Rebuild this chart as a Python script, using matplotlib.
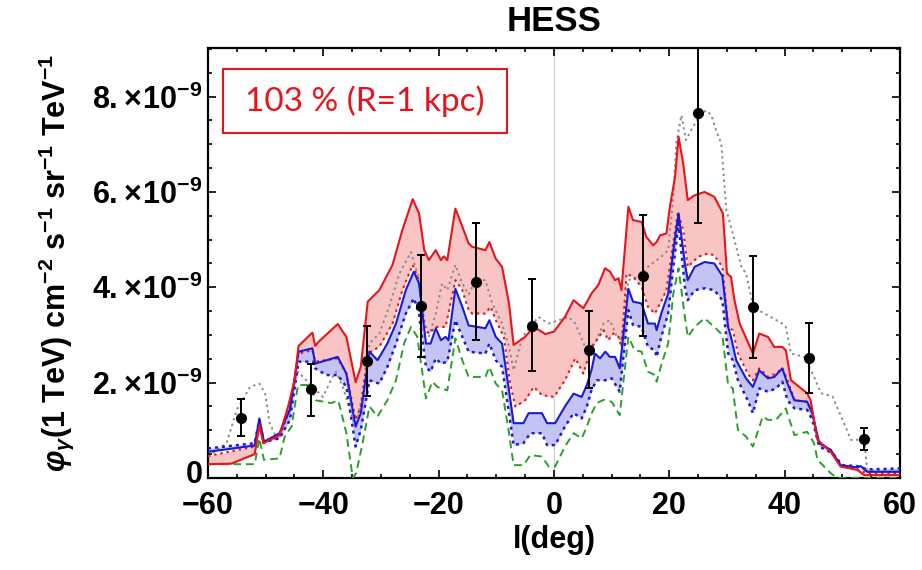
import numpy as np
import matplotlib
matplotlib.use("Agg")
import matplotlib.pyplot as plt
import matplotlib.transforms as mtransforms
from matplotlib.ticker import MultipleLocator, FuncFormatter
from matplotlib.patches import Rectangle

plt.rcParams['font.family'] = ['Liberation Sans', 'DejaVu Sans']
plt.rcParams['mathtext.fontset'] = 'custom'
plt.rcParams['mathtext.rm'] = 'Liberation Sans:bold'
plt.rcParams['mathtext.bf'] = 'Liberation Sans:bold'
plt.rcParams['mathtext.it'] = 'Liberation Sans:bold:italic'
plt.rcParams['mathtext.sf'] = 'Liberation Sans:bold'

# ---- data (flux in units of 1e-9 cm^-2 s^-1 sr^-1 TeV^-1) ----
red_solid_l = [-60, -56, -51.9, -51.1, -50.4, -47.6, -46.1, -45.0, -44.3, -41.9, -41.4, -40.8, -37.5, -36.0, -34.4,
               -33.5, -32.3, -30.3, -28.0, -26.3, -24.5, -23.4, -22.5, -21.7, -20.5, -19.6, -19.1, -18.5, -17.1, -16.2,
               -14.8, -14.2, -11.9, -11.2, -10.1, -9.0, -7.8, -7.0, -5.0, -3.5, -1.5, 0.0, 1.9, 3.4, 5.1, 6.5, 7.7,
               8.85, 9.7, 10.6, 11.2, 11.7, 12.9, 13.7, 15.2, 16.0, 17.2, 17.8, 18.4, 19.5, 20.1, 21.0, 21.6, 22.4,
               23.2, 24.4, 26.1, 27.8, 29.3, 30.0, 30.7, 31.3, 32.2, 34.5, 35.6, 37.1, 38.2, 39.6, 40.2, 41.1, 43.9,
               44.5, 45.7, 48.0, 49.7, 52.6, 53.8, 60]
red_solid_v = [0.29, 0.30, 0.50, 1.11, 0.73, 0.90, 1.50, 2.05, 2.77, 3.05, 2.77, 2.86, 3.23, 2.96, 2.01,
               2.33, 3.70, 3.94, 4.47, 5.20, 5.85, 5.55, 4.78, 4.57, 4.78, 4.57, 4.65, 4.57, 5.65, 5.37,
               4.92, 4.85, 4.78, 4.95, 4.60, 4.43, 3.66, 2.79, 2.96, 3.17, 3.02, 3.07, 3.38, 3.73, 3.56, 3.87, 4.05,
               4.40, 4.33, 4.15, 4.19, 3.94, 5.69, 5.41, 5.37, 5.06, 4.88, 4.95, 5.09, 5.13, 5.69, 6.32, 7.16, 6.60,
               5.83, 5.93, 6.00, 5.90, 5.55, 4.29, 4.22, 3.73, 3.24, 2.61, 3.03, 2.96, 2.75, 2.75, 2.68, 2.05, 1.78,
               1.63, 0.80, 0.55, 0.24, 0.17, 0.06, 0.06]

red_dot_l = [-60, -51.9, -51.1, -50.4, -47.6, -45.8, -44.3, -41.9, -41.4, -37.5, -36.0, -34.4, -33.5, -32.3, -30.3,
             -28.0, -26.3, -24.5, -23.4, -22.5, -21.7, -20.5, -18.8, -17.1, -15.9, -14.8, -14.2, -11.9, -11.0, -10.1,
             -8.7, -7.6, -6.7, -5.0, -3.5, -2.1, 0.0, 1.9, 3.7, 5.1, 6.5, 7.4, 8.6, 9.4, 10.3, 11.2, 11.7, 12.6,
             13.7, 15.2, 16.3, 17.5, 18.4, 19.5, 20.4, 21.5, 22.4, 23.2, 25.0, 26.7, 27.8, 29.2, 30.2, 31.0, 31.9,
             33.6, 34.5, 35.6, 37.1, 38.5, 39.6, 40.5, 41.7, 43.9, 44.8, 45.7, 48.0, 49.7, 52.6, 54.3, 60]
red_dot_v = [0.46, 0.66, 1.18, 0.73, 0.87, 1.45, 2.61, 2.68, 2.44, 2.51, 2.19, 1.22, 1.50, 2.61, 2.75,
             3.24, 3.94, 4.47, 4.15, 3.17, 3.03, 3.17, 3.17, 4.15, 3.94, 3.52, 3.45, 3.45, 3.59, 3.31,
             2.96, 1.98, 1.50, 1.63, 1.91, 1.74, 1.70, 2.05, 2.51, 2.19, 2.75, 2.89, 3.10, 2.89, 3.03, 2.96, 2.75,
             4.29, 4.22, 4.01, 3.59, 3.45, 3.66, 3.94, 4.71, 5.58, 5.20, 4.43, 4.64, 4.71, 4.67, 4.43, 3.17, 3.10,
             2.61, 2.19, 2.05, 2.30, 2.12, 2.19, 2.30, 2.05, 1.63, 1.60, 1.36, 0.80, 0.55, 0.27, 0.18, 0.10, 0.10]

blue_solid_l = [-60, -51.9, -51.1, -50.3, -47.6, -45.8, -44.3, -41.9, -41.4, -37.5, -36.0, -34.4, -33.5, -32.0,
                -30.6, -28.9, -27.4, -25.7, -24.3, -23.4, -22.2, -21.4, -20.5, -19.6, -18.8, -18.3, -17.1, -15.9,
                -14.8, -11.9, -11.2, -10.1, -9.0, -7.8, -7.0, -5.3, -4.4, -2.1, -1.2, 0.2, 1.9, 3.4, 4.8, 5.7, 6.5,
                7.1, 8.0, 8.9, 9.7, 10.6, 11.4, 12.9, 13.7, 15.2, 16.3, 17.5, 17.8, 18.6, 19.8, 20.7, 21.6, 22.7,
                23.2, 24.4, 26.1, 27.8, 29.2, 30.2, 30.7, 31.6, 33.3, 34.5, 35.6, 37.1, 38.2, 39.6, 40.5, 41.7,
                43.9, 44.8, 46.0, 48.0, 49.7, 52.6, 53.2, 54.3, 60]
blue_solid_v = [0.55, 0.68, 1.25, 0.76, 0.94, 1.43, 2.65, 2.72, 2.40, 2.54, 2.19, 1.08, 1.36, 2.65,
                2.47, 2.82, 3.24, 3.94, 4.33, 4.08, 2.82, 2.82, 3.14, 2.89, 2.96, 2.89, 3.97, 3.59,
                3.20, 3.14, 3.31, 2.96, 2.82, 1.84, 1.15, 1.15, 1.36, 1.36, 1.15, 1.15, 1.50, 1.77, 1.70, 1.95, 2.26,
                2.61, 2.51, 2.65, 2.54, 2.54, 2.30, 3.97, 3.70, 3.66, 3.24, 3.24, 3.10, 3.45, 3.87, 4.78, 5.55, 4.50,
                4.15, 4.43, 4.53, 4.50, 4.24, 3.17, 2.96, 2.47, 2.09, 1.91, 2.26, 2.09, 2.12, 2.30, 1.98, 1.63,
                1.60, 1.36, 0.73, 0.59, 0.27, 0.22, 0.25, 0.13, 0.13]

blue_dot_l = [-60, -51.9, -51.1, -50.3, -47.6, -45.8, -44.3, -41.8, -41.4, -39.5, -37.5, -36.0, -34.4, -33.5, -32.0,
              -30.3, -28.9, -27.4, -25.7, -24.3, -23.4, -22.2, -21.4, -20.5, -19.6, -18.5, -17.1, -15.9, -14.8,
              -11.9, -11.2, -10.1, -9.0, -7.8, -7.0, -5.3, -4.1, -2.1, -1.2, 0.2, 1.9, 3.4, 4.8, 5.7, 6.5, 7.4,
              8.9, 10.0, 11.4, 12.9, 13.7, 15.2, 16.3, 17.5, 17.8, 18.6, 19.8, 20.7, 21.6, 22.7, 23.2, 24.4, 26.1,
              27.8, 29.2, 30.2, 31.0, 31.9, 33.6, 34.5, 35.6, 37.1, 38.5, 39.6, 40.5, 41.7, 43.9, 44.8, 46.0, 48.3,
              50.0, 52.6, 54.3, 60]
blue_dot_v = [0.62, 0.73, 1.22, 0.76, 0.83, 1.22, 2.44, 2.44, 2.30, 2.16, 2.16, 1.91, 0.66, 1.01, 2.05,
              1.98, 2.33, 2.82, 3.45, 3.77, 3.45, 2.33, 2.23, 2.51, 2.40, 2.44, 3.31, 2.96, 2.65,
              2.61, 2.82, 2.47, 2.33, 1.36, 0.69, 0.73, 0.94, 0.94, 0.69, 0.69, 1.08, 1.36, 1.25, 1.50, 1.84, 2.05,
              2.05, 2.09, 1.81, 3.52, 3.21, 3.17, 2.75, 2.68, 2.54, 2.96, 3.45, 4.43, 5.34, 4.01, 3.73, 3.94, 3.98,
              3.94, 3.73, 2.61, 2.47, 2.05, 1.63, 1.36, 1.88, 1.81, 1.88, 2.02, 1.63, 1.46, 1.43, 1.22, 0.66, 0.52,
              0.27, 0.25, 0.18, 0.20]

green_l = [-60, -51.9, -51.1, -50.3, -47.6, -46.7, -45.5, -44.4, -42.4, -41.3, -38.6, -37.5, -37.2, -36.0, -34.9,
           -34.3, -33.2, -32.0, -30.6, -28.9, -27.4, -26.0, -24.8, -23.7, -22.2, -21.1, -20.2, -19.6, -18.5, -17.1,
           -15.9, -14.8, -11.9, -11.2, -10.1, -9.0, -7.8, -7.0, -5.3, -4.1, -2.1, -0.9, 0.2, 1.9, 3.4, 4.8, 5.7,
           6.5, 7.4, 8.6, 10.0, 11.4, 12.9, 14.0, 15.2, 16.3, 17.5, 17.8, 18.6, 19.8, 20.7, 21.6, 22.7, 23.2, 24.4,
           26.1, 27.8, 29.2, 30.2, 31.0, 31.9, 33.3, 34.5, 36.2, 37.1, 38.5, 40.2, 41.7, 43.9, 45.1, 45.7, 48.0,
           49.1, 60]
green_v = [0.29, 0.29, 0.83, 0.38, 0.41, 0.87, 1.08, 1.95, 1.95, 1.63, 1.57, 1.63, 1.53, 0.94, 0.0,
           0.10, 0.73, 1.50, 1.29, 1.63, 2.05, 2.82, 3.17, 2.96, 1.67, 2.02, 1.91, 1.88, 1.84, 2.93,
           2.47, 2.12, 2.12, 2.33, 1.98, 1.84, 0.94, 0.27, 0.27, 0.48, 0.45, 0.24, 0.24, 0.66, 0.94, 0.83, 1.08,
           1.35, 1.57, 1.64, 1.60, 1.32, 2.96, 2.68, 2.65, 2.23, 2.16, 2.02, 2.37, 2.82, 3.87, 4.40, 3.38, 2.96, 3.17,
           3.35, 3.17, 3.00, 1.95, 1.88, 1.01, 0.87, 0.66, 1.29, 1.22, 1.22, 1.46, 0.90, 0.97, 0.73, 0.38, 0.10,
           0.0, 0.0]

gray_l = [-60, -56.8, -55.0, -52.7, -51.1, -50.1, -49.3, -48.1, -47.0, -45.8, -44.4, -42.4, -40.1, -38.4, -37.8,
          -36.6, -34.9, -34.3, -33.2, -32.0, -30.3, -28.6, -26.8, -24.8, -23.7, -22.5, -21.7, -20.5, -19.4, -18.5,
          -17.1, -15.9, -14.8, -13.6, -11.9, -10.7, -9.0, -7.8, -7.0, -5.5, -2.7, -1.0, 0.8, 2.5, 3.7, 5.4, 6.5,
          7.1, 8.6, 9.7, 10.9, 11.7, 12.9, 14.6, 16.3, 18.6, 19.8, 20.7, 21.2, 22.1, 22.9, 23.8, 25.3, 26.4, 27.3,
          28.1, 29.0, 29.9, 31.0, 32.5, 33.3, 34.6, 36.5, 39.6, 40.2, 41.1, 43.4, 45.1, 46.3, 48.3, 50.3, 51.5,
          52.6, 53.8, 54.3, 60]
gray_v = [0.45, 0.73, 1.43, 1.91, 1.98, 1.77, 1.15, 0.83, 1.00, 1.63, 2.23, 1.98, 1.70, 2.12, 2.23,
          1.91, 1.22, 1.08, 1.77, 2.82, 3.03, 3.59, 4.29, 4.74, 4.29, 3.31, 2.96, 3.45, 4.08, 3.94,
          4.47, 4.08, 3.85, 4.15, 4.15, 3.66, 3.24, 2.75, 2.26, 2.96, 3.38, 3.24, 3.31, 3.38, 3.24, 2.75, 2.75,
          2.82, 3.24, 3.31, 2.96, 2.89, 4.15, 4.22, 4.43, 4.64, 4.78, 5.90, 7.02, 7.61, 7.09, 7.30, 7.61, 7.71, 7.61,
          7.30, 7.02, 5.62, 5.13, 4.43, 4.29, 3.58, 3.45, 3.24, 3.17, 2.61, 2.54, 2.12, 1.78, 1.71, 1.15, 0.80,
          0.80, 0.87, 0.17, 0.13]

data_l = [-54.3, -42.1, -32.5, -23.0, -13.5, -3.8, 6.0, 15.5, 24.9, 34.6, 44.3, 53.8]
data_v = [1.26, 1.87, 2.46, 3.61, 4.12, 3.19, 2.68, 4.24, 7.65, 3.58, 2.51, 0.81]
data_lo = [0.88, 1.30, 1.72, 2.53, 2.89, 2.24, 1.88, 2.98, 5.35, 2.52, 1.78, 0.59]
data_hi = [1.66, 2.40, 3.19, 4.68, 5.35, 4.17, 3.50, 5.51, 9.95, 4.65, 3.26, 1.05]

x_ticks = [-60, -40, -20, 0, 20, 40, 60]
y_ticks = [0, 2, 4, 6, 8]
label_text = "103 % (R=1 kpc)"

# ---- figure ----
fig = plt.figure(figsize=(9.22, 5.70), dpi=100)
ax = fig.add_axes([0.2256, 0.1614, 0.7505, 0.7544])

RED = '#e8141c'
BLUE = '#1a1ad6'
GREEN = '#2aa02a'
GRAY = '#8a8a8a'

grid = np.linspace(-60, 60, 2401)
rs = np.interp(grid, red_solid_l, red_solid_v)
rd = np.interp(grid, red_dot_l, red_dot_v)
bs = np.interp(grid, blue_solid_l, blue_solid_v)
bd = np.interp(grid, blue_dot_l, blue_dot_v)

ax.axvline(0, color='#cfcfcf', lw=0.9, zorder=0)
ax.fill_between(grid, rs, rd, color='#f8c4c4', lw=0, zorder=1)
ax.fill_between(grid, bs, bd, color='#c4c4f4', lw=0, zorder=2)

ax.plot(gray_l, gray_v, color=GRAY, ls=(0, (1.2, 1.8)), lw=1.4, zorder=3)
ax.plot(green_l, green_v, color=GREEN, ls=(0, (4, 2.5)), lw=1.4, zorder=4)
ax.plot(red_dot_l, red_dot_v, color=RED, ls=(0, (1.2, 1.8)), lw=1.5, zorder=5)
ax.plot(blue_dot_l, blue_dot_v, color=BLUE, ls=(0, (1.2, 1.6)), lw=1.8, zorder=6)
ax.plot(blue_solid_l, blue_solid_v, color=BLUE, lw=1.5, zorder=7)
ax.plot(red_solid_l, red_solid_v, color=RED, lw=1.5, zorder=8)

v = np.array(data_v)
ax.errorbar(data_l, data_v, yerr=[v - np.array(data_lo), np.array(data_hi) - v], fmt='o', color='black',
            ms=7, elinewidth=1.4, capsize=3, capthick=1.4, zorder=10, clip_on=True)

ax.set_xlim(-60, 60)
ax.set_ylim(0, 9.02)
ax.set_xticks(x_ticks)
ax.set_yticks(y_ticks)
ax.xaxis.set_minor_locator(MultipleLocator(5))
ax.yaxis.set_minor_locator(MultipleLocator(0.5))
ax.xaxis.set_major_formatter(FuncFormatter(lambda x, p: ('\u2212%d' % abs(x)) if x < 0 else '%d' % x))
ax.yaxis.set_major_formatter(FuncFormatter(
    lambda y, p: '0' if y == 0 else r'$%d.\!\times\!10^{-9}$' % int(round(y))))
ax.tick_params(which='both', direction='in', top=True, right=True, width=1.2)
ax.tick_params(axis='y', which='major', length=6, labelsize=22, pad=4)
ax.tick_params(axis='x', which='major', length=6, labelsize=22, pad=9)
ax.tick_params(which='minor', length=3)
for lab in ax.get_xticklabels() + ax.get_yticklabels():
    lab.set_fontweight('bold')
for s in ax.spines.values():
    s.set_linewidth(1.6)

# nudge the "0" y tick label up a little so it clears the "-60" x tick label
zero_tick = ax.yaxis.get_major_ticks()[0]
zero_tick.label1.set_transform(zero_tick.label1.get_transform() +
                               mtransforms.ScaledTranslation(0, 5 / 72, fig.dpi_scale_trans))

ax.set_xlabel('l(deg)', fontsize=22, fontweight='bold', labelpad=3)
ax.set_ylabel(r'$\varphi_\gamma$(1 TeV) cm$^{-2}$ s$^{-1}$ sr$^{-1}$ TeV$^{-1}$', fontsize=22,
              fontweight='bold', labelpad=12)
ax.set_title('HESS', fontsize=25, fontweight='bold', pad=12)

ax.add_patch(Rectangle((0.0217, 0.802), 0.410, 0.149, transform=ax.transAxes, fill=True,
                       facecolor='white', edgecolor=RED, lw=1.5, zorder=12))
ax.text(0.2267, 0.877, label_text, transform=ax.transAxes, ha='center', va='center', color=RED,
        fontsize=24, family=['Lato', 'DejaVu Sans'], zorder=13)

fig.savefig('out.png', dpi=100)
